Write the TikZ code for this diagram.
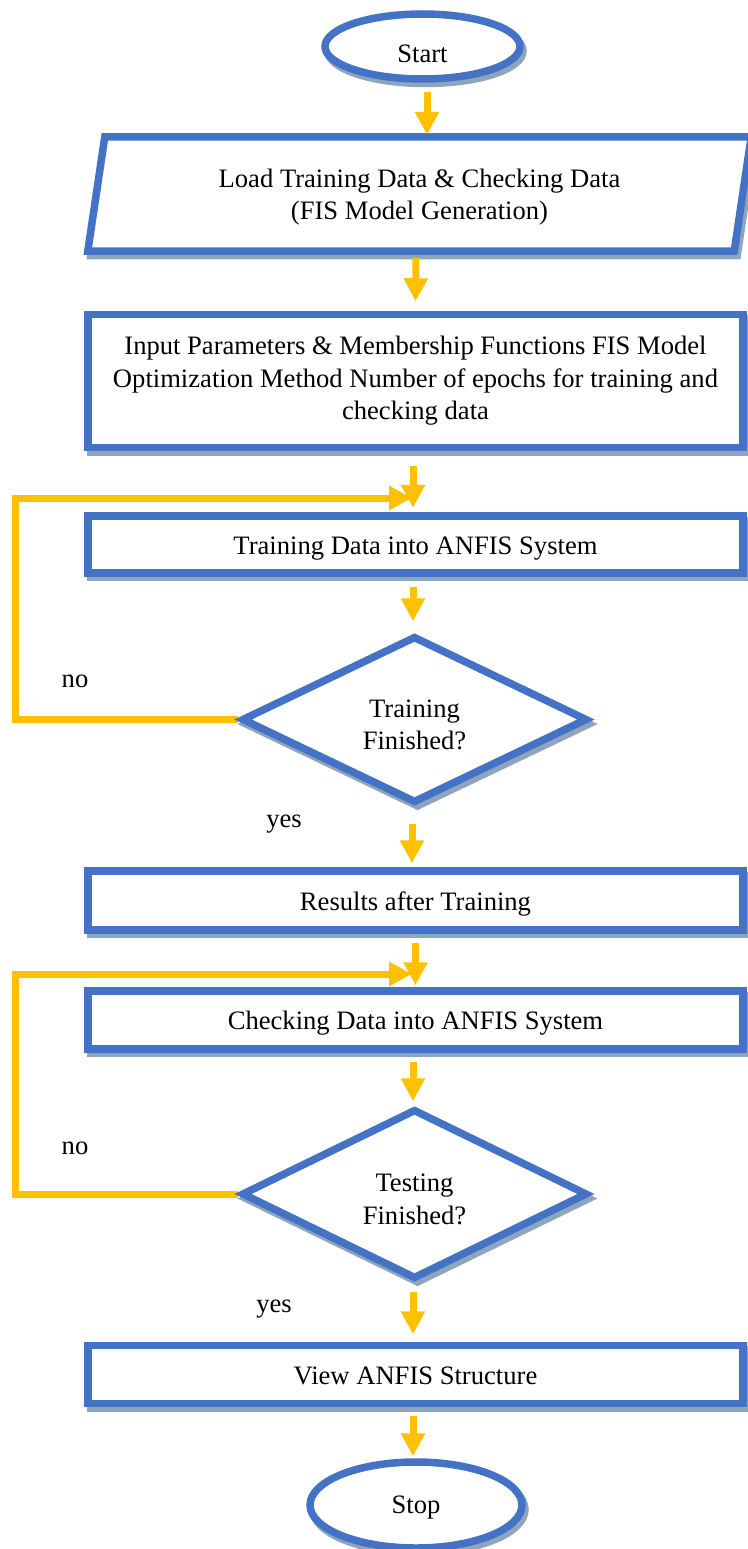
\documentclass[tikz,border=0pt]{standalone}
\usepackage{fontspec}
\setmainfont{Liberation Serif}
\usetikzlibrary{shapes.geometric,arrows.meta,shadows}
\definecolor{boxblue}{RGB}{68,114,196}
\definecolor{flowgold}{RGB}{255,192,0}
\definecolor{shadegray}{RGB}{143,164,189}
\pgfdeclarelayer{background}
\pgfsetlayers{background,main}
\tikzset{
  txt/.style={font=\fontsize{26.6}{32.5}\selectfont, align=center},
  boxshadow/.style={drop shadow={opacity=1, fill=shadegray, draw=shadegray,
      line width=7.5pt, shadow xshift=3pt, shadow yshift=-4.5pt}},
  blockshape/.style={txt, draw=boxblue, line width=7.5pt, fill=white, inner sep=0pt, boxshadow},
  terminal/.style={blockshape, ellipse},
  procbox/.style={blockshape, rectangle, minimum width=655pt},
  oneline/.style={text height=25.6pt, text depth=6pt},
  decision/.style={blockshape, diamond, minimum width=346pt, text height=60.7pt},
  textframe/.style={txt, inner sep=0pt},
  lbl/.style={txt, inner sep=0pt, anchor=base},
  flow/.style={draw=flowgold, line width=7pt, line join=miter,
      -{Triangle[width=23pt,length=23pt]}}
}
\begin{document}
\begin{tikzpicture}[x=1pt,y=-1pt]
\useasboundingbox (0,0) rectangle (747,1549);

% terminals, boxes and decisions
\node[terminal, minimum width=195pt, minimum height=65pt,
      text height=31.6pt, text depth=0pt] (start) at (422.5,46.5) {Start};

% input/output block: a parallelogram built on an invisible frame
\node[textframe, minimum width=646pt, minimum height=114pt, text height=56.7pt]
  (load) at (419.5,194)
  {Load Training Data \& Checking Data\\(FIS Model Generation)};
\begin{pgfonlayer}{background}
\path[draw=boxblue, fill=white, line width=7.5pt, boxshadow]
  ([xshift=8.5pt]load.north west) -- ([xshift=8.5pt]load.north east)
  -- ([xshift=-8.5pt]load.south east) -- ([xshift=-8.5pt]load.south west) -- cycle;
\end{pgfonlayer}

\node[procbox, minimum height=133pt] (params) at (415.5,381)
  {Input Parameters \& Membership Functions FIS Model\\
   Optimization Method Number of epochs for training and\\
   checking data};
\node[procbox, oneline, minimum height=57pt] (train) at (415.5,544.5)
  {Training Data into ANFIS System};
\node[decision, minimum height=167pt] (d1) at (414.5,719.5) {Training\\Finished?};
\node[procbox, oneline, minimum height=59pt] (results) at (415.5,900.5)
  {Results after Training};
\node[procbox, oneline, minimum height=58pt] (check) at (415.5,1020)
  {Checking Data into ANFIS System};
\node[decision, minimum height=170pt] (d2) at (414.5,1194) {Testing\\Finished?};
\node[procbox, oneline, minimum height=58pt] (view) at (415.5,1374.5)
  {View ANFIS Structure};
\node[terminal, minimum width=212pt, minimum height=86pt,
      text depth=0pt] (stop) at (416,1505) {Stop};

% branch labels
\node[lbl] (no1) at (75,687) {no};
\node[lbl] (yes1) at (284,827) {yes};
\node[lbl] (no2) at (75,1154) {no};
\node[lbl] (yes2) at (274,1312) {yes};

% loop-back corners
\coordinate (back1) at (15,498);
\coordinate (back2) at (15,974);

\begin{pgfonlayer}{background}
\draw[flow] ([xshift=4.5pt,yshift=-9pt]start.south) -- ([xshift=7.5pt,yshift=2pt]load.north);
\draw[flow] ([xshift=-3.5pt,yshift=-7pt]load.south) -- ([yshift=9.5pt]params.north);
\draw[flow] ([xshift=-2.5pt,yshift=-14.5pt]params.south) -- ([xshift=-2.5pt,yshift=4.5pt]train.north);
\draw[flow] ([xshift=-2.5pt,yshift=-10pt]train.south) -- ([xshift=-1.5pt,yshift=11pt]d1.north);
\draw[flow] ([xshift=-2.5pt,yshift=-17pt]d1.south) -- ([xshift=-3.5pt,yshift=4pt]results.north);
\draw[flow] ([yshift=-9pt]results.south) -- ([yshift=2pt]check.north);
\draw[flow] ([xshift=-2.5pt,yshift=-9pt]check.south) -- ([xshift=-1.5pt,yshift=4pt]d2.north);
\draw[flow] ([xshift=-1.5pt,yshift=-9pt]d2.south) -- ([xshift=-2.5pt,yshift=7.5pt]view.north);
\draw[flow] ([xshift=-2.5pt,yshift=-8.5pt]view.south) -- ([xshift=-3pt,yshift=2pt]stop.north);
% "no" branches return to the top of the loop
\draw[flow] (d1.west) -| (back1) -- ([xshift=-3.5pt]back1 -| train.north);
\draw[flow] (d2.west) -| (back2) -- ([xshift=-3.5pt]back2 -| check.north);
\end{pgfonlayer}
\end{tikzpicture}
\end{document}
